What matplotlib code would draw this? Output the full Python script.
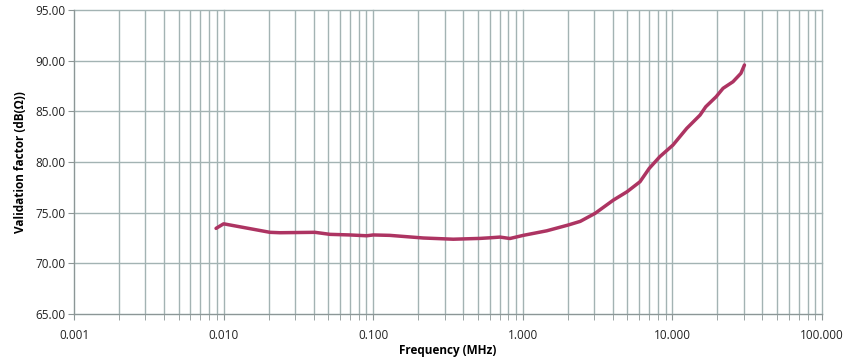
import numpy as np
import matplotlib.pyplot as plt
from matplotlib.ticker import LogLocator, FuncFormatter, MultipleLocator

# Données
freq_mhz = [0.0089, 0.0100, 0.0204, 0.0238, 0.0408, 0.0514, 0.070, 0.0904, 0.100,
            0.129, 0.216, 0.343, 0.518, 0.604, 0.704, 0.82, 1.007, 1.445, 2.01,
            2.42, 3.04, 4.03, 4.98, 6.07, 7.0, 8.23, 10.08, 12.47, 15.3, 16.7,
            19.6, 21.8, 25.4, 28.7, 30.3]
facteur_db = [73.45, 73.9, 73.06, 73.02, 73.06, 72.86, 72.8, 72.72, 72.8,
              72.76, 72.5, 72.38, 72.46, 72.52, 72.59, 72.45, 72.76, 73.21, 73.78,
              74.14, 74.93, 76.24, 77.07, 78.05, 79.37, 80.52, 81.67, 83.32, 84.63, 85.45,
              86.44, 87.27, 87.92, 88.75, 89.57]

plt.rcParams['font.family'] = ['Open Sans', 'DejaVu Sans']

fig = plt.figure(figsize=(8.45, 3.62), dpi=100)
ax = fig.add_axes([0.0876, 0.1326, 0.8852, 0.8398])

grid_col = "#a3b3b3"
ax.set_xscale("log")
ax.set_xlim(0.001, 100)
ax.set_ylim(65, 95)
ax.xaxis.set_major_locator(LogLocator(base=10, numticks=10))
ax.xaxis.set_minor_locator(LogLocator(base=10, subs=np.arange(2, 10), numticks=10))
ax.xaxis.set_major_formatter(FuncFormatter(lambda v, p: f"{v:.3f}"))
ax.xaxis.set_minor_formatter(FuncFormatter(lambda v, p: ""))
ax.yaxis.set_major_locator(MultipleLocator(5))
ax.yaxis.set_major_formatter(FuncFormatter(lambda v, p: f"{v:.2f}"))

ax.grid(True, which="both", axis="x", color=grid_col, linewidth=1.0)
ax.grid(True, which="major", axis="y", color=grid_col, linewidth=1.0)
ax.set_axisbelow(True)
for gl in ax.get_xgridlines() + ax.get_ygridlines() + ax.xaxis.get_minorticklines():
    gl.set_clip_on(False)

ax.plot(freq_mhz, facteur_db, color="#ad3462", linewidth=2.5, solid_capstyle="round")

for s in ["top", "right"]:
    ax.spines[s].set_visible(False)
for s in ["left", "bottom"]:
    ax.spines[s].set_color("#8c9696")
ax.tick_params(axis="both", which="both", direction="out", color="#8c9696",
               labelsize=8.5, labelcolor="#222222")
ax.tick_params(axis="x", which="both", length=4, pad=7)
ax.tick_params(axis="y", length=4, pad=2)

ax.set_xlabel("Frequency (MHz)", fontsize=8.5, fontweight="bold", labelpad=1)
ax.set_ylabel("Validation factor (dB(Ω))", fontsize=8.5, fontweight="bold", labelpad=6)

fig.savefig("out.png", dpi=100)
